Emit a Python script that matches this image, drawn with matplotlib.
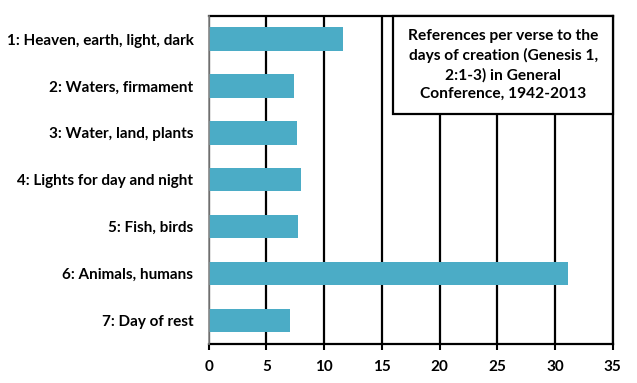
import matplotlib
matplotlib.use("Agg")
import matplotlib.pyplot as plt
from matplotlib.patches import Rectangle

plt.rcParams["font.family"] = ["Lato", "DejaVu Sans"]

days = [
    "1: Heaven, earth, light, dark",
    "2: Waters, firmament",
    "3: Water, land, plants",
    "4: Lights for day and night",
    "5: Fish, birds",
    "6: Animals, humans",
    "7: Day of rest",
]
refs_per_verse = [11.6, 7.4, 7.65, 8.0, 7.75, 31.1, 7.05]
x_ticks = [0, 5, 10, 15, 20, 25, 30, 35]
title = ("References per verse to the\ndays of creation (Genesis 1,\n"
         "2:1-3) in General\nConference, 1942-2013")

BAR = "#4BACC6"

fig = plt.figure(figsize=(6.37, 3.83), dpi=100)
ax = fig.add_axes([0.3276, 0.1026, 0.6343, 0.8564])

pos = list(range(len(days)))
ax.barh(pos, refs_per_verse, height=0.5, color=BAR, zorder=3)
ax.set_ylim(len(days) - 0.5, -0.5)
ax.set_xlim(0, 35)
ax.set_xticks(x_ticks)
ax.set_xticklabels([str(t) for t in x_ticks], fontsize=11, fontweight="bold")
ax.set_yticks(pos)
ax.set_yticklabels(days, fontsize=11, fontweight="bold")
ax.tick_params(axis="y", length=0, pad=11)
ax.tick_params(axis="x", length=4, width=1.5, direction="out", pad=8, color="black")

ax.grid(axis="x", color="black", linewidth=1.6, zorder=1)
for s in ["top", "right", "bottom"]:
    ax.spines[s].set_color("black")
    ax.spines[s].set_linewidth(1.6)
ax.spines["left"].set_color("#868686")
ax.spines["left"].set_linewidth(1.2)
ax.spines["left"].set_zorder(4)

# title box in the upper right corner
box = Rectangle((0.457, 0.70), 0.543, 0.30, transform=ax.transAxes,
                facecolor="white", edgecolor="black", linewidth=1.6,
                zorder=5, clip_on=False)
ax.add_patch(box)
ax.text(0.729, 0.85, title, transform=ax.transAxes, ha="center", va="center",
        fontsize=11.2, fontweight="bold", linespacing=1.4, zorder=6)

fig.savefig("out.png", dpi=100)
